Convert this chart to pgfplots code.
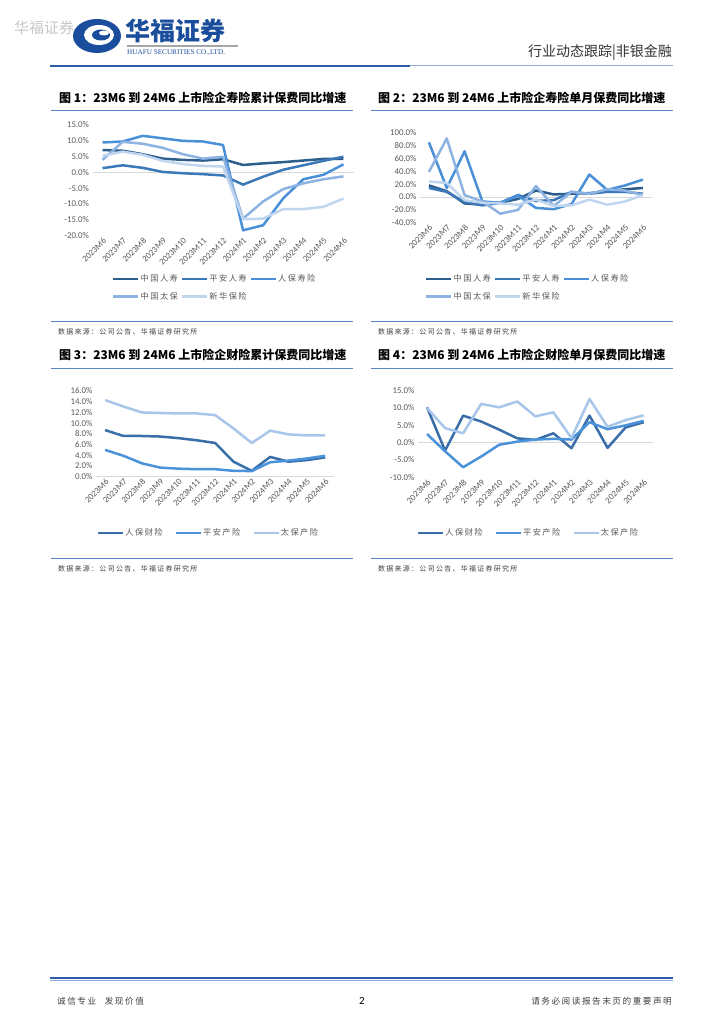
\documentclass[border=0pt]{standalone}
\usepackage{fontspec}
\usepackage{pgfplots}
\usepackage{pgfplotstable}
\pgfplotsset{compat=1.18}
\setmainfont{Noto Sans CJK SC}
\newfontfamily\cjk{Noto Sans CJK SC}
\newfontfamily\cjksp[LetterSpace=18]{Noto Sans CJK SC}
\newfontfamily\carlito{Carlito}
\newfontfamily\libserif{Liberation Serif}

\definecolor{cA}{HTML}{2E5E8C}
\definecolor{cB}{HTML}{3A78B8}
\definecolor{cC}{HTML}{4A90D9}
\definecolor{cD}{HTML}{8DB3E2}
\definecolor{cE}{HTML}{C0D5EE}
\definecolor{pA}{HTML}{3A6EA8}
\definecolor{pB}{HTML}{4A92DA}
\definecolor{pC}{HTML}{A8C6EA}
\definecolor{txtgray}{HTML}{595959}
\definecolor{zline}{HTML}{D9D9D9}
\definecolor{rule}{HTML}{5B86C5}
\definecolor{hfblue}{HTML}{1A4D9B}
\definecolor{hdline}{HTML}{2F5EA8}
\definecolor{hdline2}{HTML}{8FAADC}

\pgfplotstableread{
i zgrs pars rbss zgtb xhbx
0 7.0 1.3 9.4 3.9 5.2
1 6.8 2.2 9.7 9.6 6.5
2 5.7 1.4 11.5 9.0 5.5
3 4.3 0.1 10.7 7.7 3.6
4 3.9 -0.3 9.9 5.7 2.6
5 3.7 -0.6 9.7 4.3 2.0
6 4.1 -1.0 8.6 4.9 1.8
7 2.3 -3.9 -18.3 -14.6 -14.8
8 2.8 -1.4 -16.7 -9.2 -14.6
9 3.2 0.8 -8.2 -5.3 -11.6
10 3.7 2.2 -2.2 -3.5 -11.6
11 4.2 3.6 -0.8 -2.2 -10.9
12 4.2 4.9 2.5 -1.3 -8.3
}\tabA

\pgfplotstableread{
i zgrs pars rbss zgtb xhbx
0 18 14 85 39 24
1 9 8 14 91 22
2 -10 -8 71 3 -5
3 -12 -13 -7 -7 -9
4 -9 -9 -9 -26 -10
5 -3 3 2 -20 -12
6 10 -6 -17 17 -4
7 4 -5 -19 -14 -14
8 5 8 -11 8 -13
9 6 5 35 5 -4
10 9 8 11 12 -12
11 12 8 18 10 -7
12 14 5 27 3 3
}\tabB

\pgfplotstableread{
i rbcx pacx tbcx
0 8.7 5.0 14.3
1 7.6 3.9 13.1
2 7.6 2.5 12.0
3 7.5 1.7 11.9
4 7.2 1.5 11.8
5 6.8 1.4 11.8
6 6.3 1.4 11.5
7 2.8 1.1 9.0
8 1.1 1.05 6.3
9 3.7 2.7 8.6
10 2.8 3.0 7.9
11 3.1 3.4 7.7
12 3.6 3.9 7.7
}\tabC

\pgfplotstableread{
i rbcx pacx tbcx
0 10.2 2.5 10.0
1 -2.3 -2.5 4.2
2 7.8 -7.1 2.7
3 6.1 -4.0 11.2
4 3.75 -0.6 10.2
5 1.25 0.3 11.9
6 0.8 0.9 7.6
7 2.7 1.1 8.75
8 -1.6 0.9 1.35
9 7.8 5.9 12.6
10 -1.5 3.9 4.6
11 4.4 5.0 6.5
12 5.9 6.3 7.9
}\tabD

\pgfplotsset{
 chartbase/.style={
   scale only axis,
   anchor=south west,
   axis line style={draw=none},
   major tick length=0pt,
   xmin=-0.5, xmax=12.5,
   xtick={0,...,12},
   xticklabels={2023M6,2023M7,2023M8,2023M9,2023M10,2023M11,2023M12,2024M1,2024M2,2024M3,2024M4,2024M5,2024M6},
   xticklabel style={rotate=45, anchor=north east, font=\carlito\fontsize{8.8}{9}\selectfont, text=txtgray, inner sep=1pt},
   yticklabel style={font=\carlito\fontsize{8.8}{9}\selectfont, text=txtgray},
   extra y ticks={0}, extra y tick labels={},
   extra y tick style={grid=major, major grid style={draw=zline, line width=0.9pt}},
   every axis plot/.append style={line width=2.5pt, line join=round, mark=none},
   legend cell align=left,
   legend image code/.code={\draw[##1] (0pt,0pt) -- (25pt,0pt);},
   legend style={draw=none, fill=none, inner sep=0pt, font=\cjksp\fontsize{8.2}{9}\selectfont, text=txtgray, anchor=north west, row sep=7pt, nodes={inner sep=1pt}},
 },
}

\begin{document}
\begin{tikzpicture}
\fill[white] (0,0) rectangle (724pt,-1024pt);
\useasboundingbox (0,0) rectangle (724pt,-1024pt);

% ---------- header ----------
\node[anchor=west, inner sep=0, text=black!22] at (14pt,-28pt) {\fontsize{15}{16}\selectfont 华福证券};
\fill[hfblue] (97pt,-36pt) ellipse [x radius=24pt, y radius=17pt];
\fill[white] (99pt,-35pt) ellipse [x radius=15pt, y radius=10pt];
\fill[hfblue] (101pt,-35pt) ellipse [x radius=9pt, y radius=5.5pt];
\fill[white] (104pt,-33pt) ellipse [x radius=5pt, y radius=2.5pt];
\node[anchor=west, inner sep=0, text=hfblue] at (125pt,-31pt) {\fontsize{25}{26}\selectfont\bfseries 华福证券};
\fill[black!35] (127pt,-45.5pt) rectangle (238pt,-47pt);
\node[anchor=west, inner sep=0, text=hfblue] at (127pt,-52.5pt) {\libserif\fontsize{7.2}{8}\selectfont HUAFU SECURITIES CO.,LTD.};
\node[anchor=east, inner sep=0, text=black!80] at (672pt,-53pt) {\fontsize{14}{15}\selectfont 行业动态跟踪|非银金融};
\draw[hdline, line width=1.6pt] (50pt,-66pt) -- (410pt,-66pt);
\draw[hdline2, line width=1.0pt] (410pt,-66pt) -- (673pt,-66pt);

% ---------- titles & rules ----------
\node[anchor=west, inner sep=0] at (59pt,-98pt) {\fontsize{12}{13}\selectfont\bfseries 图 1：23M6 到 24M6 上市险企寿险累计保费同比增速};
\node[anchor=west, inner sep=0] at (378pt,-98pt) {\fontsize{12}{13}\selectfont\bfseries 图 2：23M6 到 24M6 上市险企寿险单月保费同比增速};
\node[anchor=west, inner sep=0] at (59pt,-355pt) {\fontsize{12}{13}\selectfont\bfseries 图 3：23M6 到 24M6 上市险企财险累计保费同比增速};
\node[anchor=west, inner sep=0] at (378pt,-355pt) {\fontsize{12}{13}\selectfont\bfseries 图 4：23M6 到 24M6 上市险企财险单月保费同比增速};
\foreach \yy in {110.5,321,368,558} {
  \draw[rule, line width=0.8pt] (51pt,-\yy pt) -- (353pt,-\yy pt);
  \draw[rule, line width=0.8pt] (371pt,-\yy pt) -- (673pt,-\yy pt);
}
\node[anchor=west, inner sep=0, text=black!75] at (58pt,-332pt) {\cjksp\fontsize{7}{8}\selectfont 数据来源：公司公告、华福证券研究所};
\node[anchor=west, inner sep=0, text=black!75] at (378pt,-332pt) {\cjksp\fontsize{7}{8}\selectfont 数据来源：公司公告、华福证券研究所};
\node[anchor=west, inner sep=0, text=black!75] at (58pt,-569pt) {\cjksp\fontsize{7}{8}\selectfont 数据来源：公司公告、华福证券研究所};
\node[anchor=west, inner sep=0, text=black!75] at (378pt,-569pt) {\cjksp\fontsize{7}{8}\selectfont 数据来源：公司公告、华福证券研究所};

% ---------- chart 1 ----------
\begin{axis}[chartbase, at={(92.5pt,-235.7pt)}, width=261pt, height=111pt,
  ymin=-20, ymax=15, ytick={-20,-15,...,15},
  yticklabels={-20.0\%,-15.0\%,-10.0\%,-5.0\%,0.0\%,5.0\%,10.0\%,15.0\%},
  legend columns=3,
  legend style={at={(0.0747,-0.3405)}, /tikz/every even column/.append style={column sep=2pt}}]
\addplot[cA] table[x=i,y=zgrs]{\tabA}; \addlegendentry{中国人寿}
\addplot[cB] table[x=i,y=pars]{\tabA}; \addlegendentry{平安人寿}
\addplot[cC] table[x=i,y=rbss]{\tabA}; \addlegendentry{人保寿险}
\addplot[cD] table[x=i,y=zgtb]{\tabA}; \addlegendentry{中国太保}
\addplot[cE] table[x=i,y=xhbx]{\tabA}; \addlegendentry{新华保险}
\end{axis}

% ---------- chart 2 ----------
\begin{axis}[chartbase, at={(420pt,-222.7pt)}, width=231.8pt, height=90pt,
  ymin=-40, ymax=100, ytick={-40,-20,...,100},
  yticklabels={-40.0\%,-20.0\%,0.0\%,20.0\%,40.0\%,60.0\%,80.0\%,100.0\%},
  legend columns=3,
  legend style={at={(0.0216,-0.564)}, /tikz/every even column/.append style={column sep=2pt}}]
\addplot[cA] table[x=i,y=zgrs]{\tabB}; \addlegendentry{中国人寿}
\addplot[cB] table[x=i,y=pars]{\tabB}; \addlegendentry{平安人寿}
\addplot[cC] table[x=i,y=rbss]{\tabB}; \addlegendentry{人保寿险}
\addplot[cD] table[x=i,y=zgtb]{\tabB}; \addlegendentry{中国太保}
\addplot[cE] table[x=i,y=xhbx]{\tabB}; \addlegendentry{新华保险}
\end{axis}

% ---------- chart 3 ----------
\begin{axis}[chartbase, at={(96pt,-476.7pt)}, width=238.3pt, height=85.7pt,
  ymin=0, ymax=16, ytick={0,2,...,16},
  yticklabels={0.0\%,2.0\%,4.0\%,6.0\%,8.0\%,10.0\%,12.0\%,14.0\%,16.0\%},
  legend columns=3,
  legend style={at={(0.003,-0.593)}, /tikz/every even column/.append style={column sep=11pt}}]
\addplot[pA] table[x=i,y=rbcx]{\tabC}; \addlegendentry{人保财险}
\addplot[pB] table[x=i,y=pacx]{\tabC}; \addlegendentry{平安产险}
\addplot[pC] table[x=i,y=tbcx]{\tabC}; \addlegendentry{太保产险}
\end{axis}

% ---------- chart 4 ----------
\begin{axis}[chartbase, at={(418pt,-477.3pt)}, width=234.7pt, height=86.6pt,
  ymin=-10, ymax=15, ytick={-10,-5,...,15},
  yticklabels={-10.0\%,-5.0\%,0.0\%,5.0\%,10.0\%,15.0\%},
  legend columns=3,
  legend style={at={(-0.0055,-0.580)}, /tikz/every even column/.append style={column sep=11pt}}]
\addplot[pA] table[x=i,y=rbcx]{\tabD}; \addlegendentry{人保财险}
\addplot[pB] table[x=i,y=pacx]{\tabD}; \addlegendentry{平安产险}
\addplot[pC] table[x=i,y=tbcx]{\tabD}; \addlegendentry{太保产险}
\end{axis}

% ---------- footer ----------
\draw[hdline, line width=1.6pt] (50pt,-978pt) -- (673pt,-978pt);
\draw[hdline2, line width=0.6pt] (50pt,-980pt) -- (673pt,-980pt);
\node[anchor=west, inner sep=0, text=black!75] at (57pt,-1001pt) {\cjksp\fontsize{8.6}{9}\selectfont 诚信专业\quad 发现价值};
\node[inner sep=0] at (362pt,-1001pt) {\carlito\fontsize{11}{12}\selectfont 2};
\node[anchor=east, inner sep=0, text=black!75] at (672pt,-1001pt) {\cjksp\fontsize{8.6}{9}\selectfont 请务必阅读报告末页的重要声明};
\end{tikzpicture}
\end{document}
